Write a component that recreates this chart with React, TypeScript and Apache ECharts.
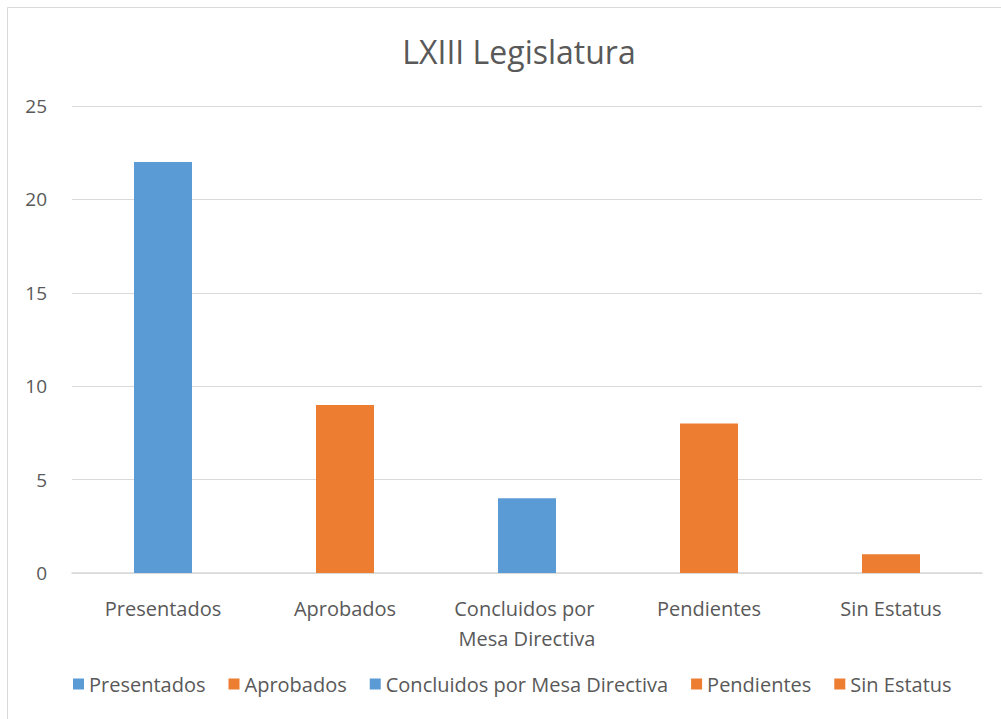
import React, { useEffect, useRef } from "react";
import * as echarts from "echarts";

const categories = ["Presentados", "Aprobados", "Concluidos por Mesa Directiva", "Pendientes", "Sin Estatus"];
const values = [22, 9, 4, 8, 1];
const colors = ["#5B9BD5", "#ED7D31", "#5B9BD5", "#ED7D31", "#ED7D31"];
const yTicks = { min: 0, max: 25, interval: 5 };

export default function App() {
  const ref = useRef<HTMLDivElement>(null);
  useEffect(() => {
    if (!ref.current) return;
    const chart = echarts.init(ref.current, undefined, { renderer: "svg" });
    const font = "'Open Sans', 'Noto Sans', sans-serif";
    const series = categories.map((name, i) => ({
      name,
      type: "bar",
      stack: "all",
      barWidth: 58,
      itemStyle: { color: colors[i] },
      data: values.map((v, j) => (j === i ? v : null)),
    }));
    chart.setOption({
      animation: false,
      backgroundColor: "#ffffff",
      textStyle: { fontFamily: font },
      title: {
        text: "LXIII Legislatura",
        left: 514,
        textAlign: "center",
        top: 30,
        textStyle: { fontSize: 32, fontWeight: "normal", color: "#595959", fontFamily: font },
      },
      graphic: [
        {
          type: "rect",
          shape: { x: 7.5, y: 7.5, width: 1200, height: 900 },
          style: { fill: "none", stroke: "#d9d9d9", lineWidth: 1 },
          silent: true,
        },
      ],
      legend: {
        bottom: 20,
        left: 68,
        itemWidth: 11,
        itemHeight: 11,
        itemGap: 23,
        icon: "rect",
        textStyle: { fontSize: 20, color: "#595959", fontFamily: font },
        data: categories,
      },
      grid: { left: 72, right: 19, top: 106, bottom: 146, containLabel: false },
      xAxis: {
        type: "category",
        data: categories,
        axisLine: { lineStyle: { color: "#d9d9d9", width: 1.5 } },
        axisTick: { show: false },
        axisLabel: {
          fontSize: 20,
          color: "#595959",
          margin: 20,
          width: 170,
          overflow: "break",
          lineHeight: 30,
          interval: 0,
          fontFamily: font,
        },
      },
      yAxis: {
        type: "value",
        min: yTicks.min,
        max: yTicks.max,
        interval: yTicks.interval,
        axisLine: { show: false },
        axisTick: { show: false },
        splitLine: { lineStyle: { color: "#d9d9d9", width: 1 } },
        axisLabel: { fontSize: 19, color: "#595959", margin: 25, fontFamily: font },
      },
      series,
    });
    return () => chart.dispose();
  }, []);
  return <div ref={ref} style={{ position: "fixed", left: 0, top: 0, width: 1001, height: 719 }} />;
}
